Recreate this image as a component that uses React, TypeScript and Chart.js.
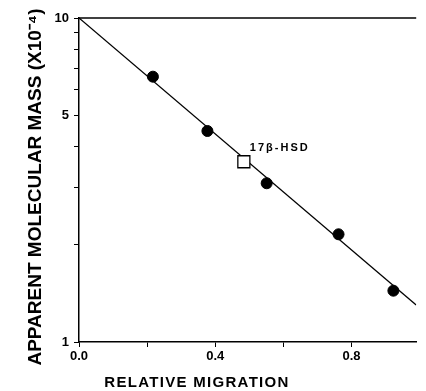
import React, { useEffect, useRef } from 'react';
import { Chart, registerables } from 'chart.js';

Chart.register(...registerables);

// ---- data ----
const markerMigration = [0.217, 0.377, 0.551, 0.762, 0.923];
const markerMass = [6.59, 4.48, 3.09, 2.15, 1.44];
const hsdMigration = [0.484];
const hsdMass = [3.6];
const hsdLabel = '17β-HSD';
const fitMigration = [0, 0.99];
const fitMass = [10, 1.3];
const xTickValues = [0, 0.2, 0.4, 0.6, 0.8];
const xTickLabels = [0, 0.4, 0.8];
const yTickValues = [1, 2, 3, 4, 5, 6, 7, 8, 9, 10];
const yTickLabels = [1, 5, 10];
const xTitle = 'RELATIVE MIGRATION';
const yTitle = 'APPARENT MOLECULAR MASS (X10⁻⁴)';

const FONT = '"Liberation Sans", Arial, sans-serif';

const decorPlugin = {
  id: 'decor',
  afterDraw(chart: any) {
    const { ctx, chartArea } = chart;
    ctx.save();
    // top frame line
    ctx.strokeStyle = '#000';
    ctx.lineWidth = 1.5;
    ctx.beginPath();
    ctx.moveTo(chartArea.left, chartArea.top);
    ctx.lineTo(chartArea.right, chartArea.top);
    ctx.stroke();
    ctx.fillStyle = '#000';
    ctx.textBaseline = 'middle';
    // x axis title
    ctx.font = `bold 15px ${FONT}`;
    (ctx as any).letterSpacing = '1.3px';
    ctx.textAlign = 'center';
    ctx.fillText(xTitle, chartArea.left + 118, chart.height - 8);
    // y axis title
    ctx.save();
    ctx.font = `bold 19px ${FONT}`;
    (ctx as any).letterSpacing = '0px';
    ctx.translate(36, (chartArea.top + chartArea.bottom) / 2 + 7);
    ctx.rotate(-Math.PI / 2);
    ctx.fillText(yTitle, 0, 0);
    ctx.restore();
    // 17β-HSD label next to its square marker
    const meta = chart.getDatasetMeta(1);
    const pt = meta && meta.data && meta.data[0];
    if (pt) {
      ctx.font = `bold 11px ${FONT}`;
      (ctx as any).letterSpacing = '2px';
      ctx.textAlign = 'left';
      ctx.fillText(hsdLabel, pt.x + 6, pt.y - 14);
    }
    (ctx as any).letterSpacing = '0px';
    ctx.restore();
  },
};

export default function App() {
  const ref = useRef<HTMLCanvasElement | null>(null);

  useEffect(() => {
    const canvas = ref.current;
    if (!canvas) return;
    const chart = new Chart(canvas, {
      type: 'scatter',
      data: {
        datasets: [
          {
            label: 'standards',
            data: markerMigration.map((x, i) => ({ x, y: markerMass[i] })),
            pointStyle: 'circle',
            pointRadius: 5.5,
            pointBackgroundColor: '#000',
            pointBorderColor: '#000',
            pointBorderWidth: 1,
            showLine: false,
          },
          {
            label: hsdLabel,
            data: hsdMigration.map((x, i) => ({ x, y: hsdMass[i] })),
            pointStyle: 'rect',
            pointRadius: 8.5,
            pointBackgroundColor: '#fff',
            pointBorderColor: '#000',
            pointBorderWidth: 1.3,
            showLine: false,
          },
          {
            label: 'fit',
            data: fitMigration.map((x, i) => ({ x, y: fitMass[i] })),
            showLine: true,
            borderColor: '#000',
            borderWidth: 1.3,
            pointRadius: 0,
            fill: false,
          },
        ],
      },
      options: {
        responsive: false,
        animation: false,
        layout: { padding: { top: 18, right: 0, left: 0, bottom: 0 } },
        plugins: {
          legend: { display: false },
          tooltip: { enabled: false },
        },
        scales: {
          x: {
            type: 'linear',
            min: 0,
            max: 0.99,
            afterBuildTicks: (scale: any) => {
              scale.ticks = xTickValues.map((v) => ({ value: v }));
            },
            afterFit: (scale: any) => {
              scale.height = 49;
            },
            ticks: {
              color: '#000',
              font: { family: FONT, size: 13, weight: 'bold' },
              padding: 2,
              maxRotation: 0,
              autoSkip: false,
              callback: (v: any) =>
                xTickLabels.some((t) => Math.abs(t - v) < 1e-6) ? Number(v).toFixed(1) : '',
            },
            grid: { drawOnChartArea: false, color: '#000', tickLength: 5, lineWidth: 1 },
            border: { color: '#000', width: 1.5 },
          },
          y: {
            type: 'logarithmic',
            min: 1,
            max: 10,
            afterBuildTicks: (scale: any) => {
              scale.ticks = yTickValues.map((v) => ({ value: v }));
            },
            afterFit: (scale: any) => {
              scale.width = 79;
            },
            ticks: {
              color: '#000',
              font: { family: FONT, size: 13, weight: 'bold' },
              padding: 5,
              autoSkip: false,
              callback: (v: any) =>
                yTickLabels.some((t) => Math.abs(t - v) < 1e-6) ? String(v) : '',
            },
            grid: { drawOnChartArea: false, color: '#000', tickLength: 5, lineWidth: 1 },
            border: { color: '#000', width: 1.5 },
          },
        },
      },
      plugins: [decorPlugin],
    } as any);
    return () => chart.destroy();
  }, []);

  return (
    <div style={{ position: 'absolute', left: 0, top: 0, width: 426, height: 391, background: '#fff' }}>
      <canvas ref={ref} width={426} height={391} style={{ display: 'block' }} />
    </div>
  );
}
